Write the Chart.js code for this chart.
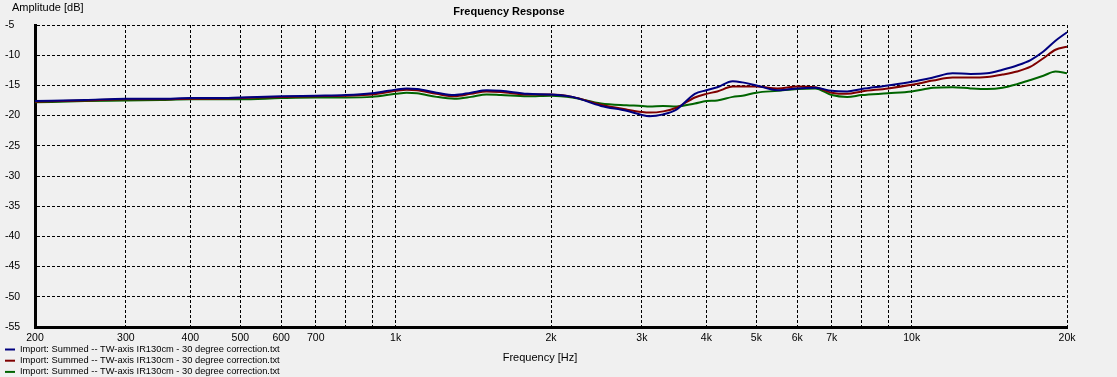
<!DOCTYPE html>
<html>
<head>
<meta charset="utf-8">
<script src="https://cdn.jsdelivr.net/npm/chart.js@4/dist/chart.umd.min.js"></script>
<style>
    html, body { margin: 0; padding: 0; background: #f0f0f0; }
    #wrap { width: 1117px; height: 377px; }
</style>
</head>
<body>
<div id="wrap"><canvas id="freqChart"></canvas></div>
<script>
const freqs = [200, 250, 300, 350, 400, 450, 500, 600, 700, 800, 900, 1000, 1050, 1100, 1200, 1300, 1400, 1500, 1600, 1800,
    2000, 2200, 2500, 2800, 3000, 3100, 3300, 3500, 3800, 4000, 4200, 4500, 4700, 5000, 5500, 6000, 6500, 7000, 7500, 8000,
    9000, 10000, 11000, 12000, 13000, 14000, 15000, 16000, 17000, 18000, 19000, 20000];

const blueDb = [-17.6, -17.4, -17.2, -17.2, -17.1, -17.1, -17.0, -16.8, -16.7, -16.6, -16.3, -15.7, -15.5, -15.6, -16.2, -16.6, -16.2, -15.8, -15.9, -16.4,
    -16.5, -16.9, -18.4, -19.2, -19.9, -20.1, -19.8, -19.0, -16.4, -15.8, -15.3, -14.3, -14.5, -15.0, -15.8, -15.5, -15.4, -15.9, -16.0, -15.6,
    -15.0, -14.4, -13.7, -13.0, -13.1, -13.0, -12.4, -11.7, -10.8, -9.4, -7.6, -6.2];

const redDb = [-17.7, -17.5, -17.3, -17.3, -17.2, -17.2, -17.1, -16.9, -16.8, -16.7, -16.5, -15.9, -15.7, -15.8, -16.4, -16.8, -16.4, -16.0, -16.1, -16.5,
    -16.5, -16.9, -18.2, -19.0, -19.4, -19.5, -19.3, -18.7, -17.0, -16.4, -16.0, -15.2, -15.2, -15.2, -15.5, -15.2, -15.3, -16.2, -16.4, -16.0,
    -15.5, -14.9, -14.2, -13.7, -13.7, -13.6, -13.2, -12.7, -11.9, -10.5, -9.1, -8.6];

const greenDb = [-17.8, -17.6, -17.5, -17.4, -17.3, -17.3, -17.3, -17.1, -17.0, -17.0, -16.9, -16.4, -16.2, -16.3, -16.9, -17.2, -16.9, -16.5, -16.6, -16.8,
    -16.7, -17.0, -18.0, -18.3, -18.4, -18.5, -18.4, -18.5, -18.0, -17.6, -17.5, -16.9, -16.7, -16.2, -15.9, -15.6, -15.5, -16.6, -16.9, -16.6,
    -16.3, -16.0, -15.4, -15.3, -15.5, -15.6, -15.4, -14.8, -14.1, -13.4, -12.7, -13.0];

const seriesLabels = [
    'Import: Summed -- TW-axis IR130cm - 30 degree correction.txt',
    'Import: Summed -- TW-axis IR130cm - 30 degree correction.txt',
    'Import: Summed -- TW-axis IR130cm - 30 degree correction.txt'
];
const seriesColors = ['#00007f', '#7f0000', '#006400'];

// vertical grid lines and which of them get a label
const gridFreqs = [200, 300, 400, 500, 600, 700, 800, 900, 1000, 2000, 3000, 4000, 5000, 6000, 7000, 8000, 9000, 10000, 20000];
const freqLabels = { 200: '200', 300: '300', 400: '400', 500: '500', 600: '600', 700: '700', 1000: '1k',
    2000: '2k', 3000: '3k', 4000: '4k', 5000: '5k', 6000: '6k', 7000: '7k', 10000: '10k', 20000: '20k' };

const FONT = '"Liberation Sans", Arial, sans-serif';

function toPoints(values) {
    return freqs.map((f, i) => ({ x: f, y: values[i] }));
}

// background, titles and the legend in the lower left corner
const textPlugin = {
    id: 'textPlugin',
    beforeDraw(chart) {
        const ctx = chart.ctx;
        ctx.save();
        ctx.fillStyle = '#f0f0f0';
        ctx.fillRect(0, 0, chart.width, chart.height);
        ctx.restore();
    },
    afterDraw(chart) {
        const ctx = chart.ctx;
        ctx.save();
        ctx.fillStyle = '#000';
        ctx.textBaseline = 'middle';

        ctx.font = 'bold 11px ' + FONT;
        ctx.textAlign = 'center';
        ctx.fillText('Frequency Response', 509, 12);

        ctx.font = '11px ' + FONT;
        ctx.textAlign = 'left';
        ctx.fillText('Amplitude [dB]', 12, 8);

        ctx.textAlign = 'center';
        ctx.fillText('Frequency [Hz]', 540, 358);

        ctx.font = '9.3px ' + FONT;
        ctx.textAlign = 'left';
        chart.data.datasets.forEach((ds, i) => {
            const y = 349.5 + i * 11.2;
            ctx.strokeStyle = ds.borderColor;
            ctx.lineWidth = 2;
            ctx.beginPath();
            ctx.moveTo(5, y);
            ctx.lineTo(15, y);
            ctx.stroke();
            ctx.fillStyle = '#000';
            ctx.fillText(ds.label, 20, y);
        });
        ctx.restore();
    }
};

const ctx = document.getElementById('freqChart').getContext('2d');

new Chart(ctx, {
    type: 'line',
    data: {
        datasets: [blueDb, redDb, greenDb].map((vals, i) => ({
            label: seriesLabels[i],
            data: toPoints(vals),
            borderColor: seriesColors[i],
            borderWidth: 2,
            pointRadius: 0,
            fill: false,
            cubicInterpolationMode: 'monotone'
        }))
    },
    options: {
        responsive: true,
        maintainAspectRatio: false,
        animation: false,
        events: [],
        layout: {
            padding: { left: 5, top: 25, right: 50, bottom: 0 }
        },
        plugins: {
            legend: { display: false },
            title: { display: false },
            tooltip: { enabled: false }
        },
        scales: {
            x: {
                type: 'logarithmic',
                min: 200,
                max: 20000,
                afterBuildTicks: scale => {
                    scale.ticks = gridFreqs.map(v => ({ value: v }));
                },
                afterFit: scale => {
                    scale.height = 50;
                },
                grid: {
                    color: '#000',
                    lineWidth: 1,
                    drawTicks: false
                },
                border: {
                    display: true,
                    color: '#000',
                    width: 3,
                    dash: [3, 2]
                },
                ticks: {
                    autoSkip: false,
                    maxRotation: 0,
                    padding: 5,
                    color: '#000',
                    font: { family: FONT, size: 10.5 },
                    callback: value => freqLabels[value] || ''
                }
            },
            y: {
                min: -55,
                max: -5,
                afterFit: scale => {
                    scale.width = 30;
                },
                grid: {
                    color: '#000',
                    lineWidth: 1,
                    drawTicks: false
                },
                border: {
                    display: true,
                    color: '#000',
                    width: 3,
                    dash: [3, 2]
                },
                ticks: {
                    stepSize: 5,
                    crossAlign: 'far',
                    color: '#000',
                    font: { family: FONT, size: 10.5 }
                }
            }
        }
    },
    plugins: [textPlugin]
});
</script>
</body>
</html>
